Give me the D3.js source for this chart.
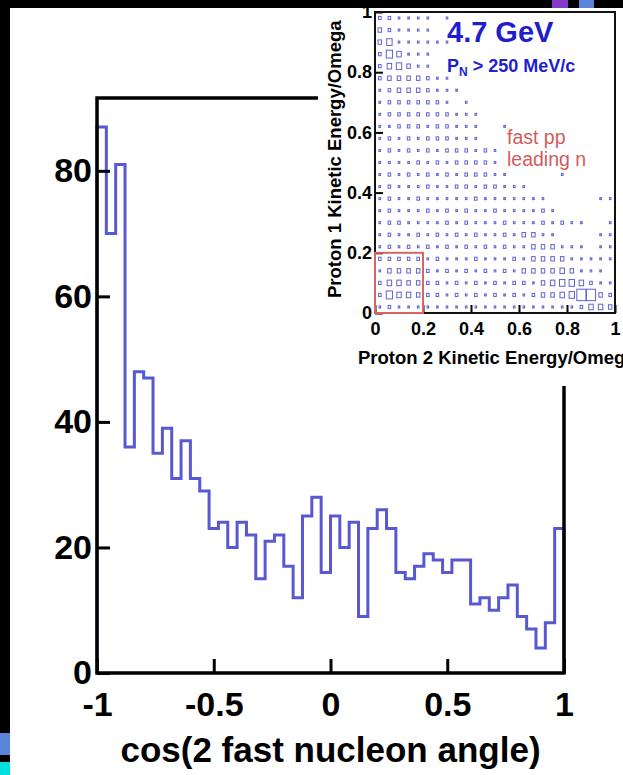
<!DOCTYPE html>
<html>
<head>
<meta charset="utf-8">
<script src="https://cdn.jsdelivr.net/npm/d3@7"></script>
<style>
html, body { margin: 0; padding: 0; background: #fff; }
svg { display: block; }
text { font-family: "Liberation Sans", Arial, Helvetica, sans-serif; font-weight: bold; }
</style>
</head>
<body>
<svg id="chart" width="623" height="775"></svg>
<script>
// Main histogram: cos of the angle between the two fast nucleons, 50 bins on [-1, 1]
var cosRange = [-1, 1];
var counts = [87, 70, 81, 36, 48, 47, 35, 39, 31, 37,
              31, 29, 23, 24, 20, 24, 22, 15, 21, 22,
              17, 12, 25, 28, 16, 25, 20, 24, 9, 23,
              26, 23, 16, 15, 17, 19, 18, 16, 18, 18,
              11, 12, 10, 12, 14, 9, 7, 4, 8, 23];
var countTicks = [0, 20, 40, 60, 80];
var cosTicks = [-1, -0.5, 0, 0.5, 1];

// Inset: proton 1 vs proton 2 kinetic energy / omega, 25 x 25 box plot.
// One string per row (top row first), one digit per cell = box size.
var insetRows = [
	"221111010",
	"321111",
	"35111111",
	"264111",
	"245311",
	"23333211",
	"123332111",
	"1222222101",
	"12222222111",
	"11222122111001",
	"12121222111",
	"1212121222121",
	"1111212122221",
	"12121212122211000001",
	"1211121122122111",
	"1211211111211111110000011",
	"1211121212112111121",
	"1221111212111211121211001",
	"1211212121211213311000011",
	"1212121212121211333111011",
	"2222212111211121333311111",
	"1333321212121213333431110",
	"2443322121212122134554211",
	"2644322121212121233459932",
	"1211111111111111111112443"
];
var insetTicks = [0, 0.2, 0.4, 0.6, 0.8, 1];
var fastRegion = [0, 0.2];

var svg = d3.select("#chart");

// ---------- main histogram ----------
var x = d3.scaleLinear().domain(cosRange).range([97, 564]);
var y = d3.scaleLinear().domain([0, 91.6]).range([673, 98]);
var binW = (cosRange[1] - cosRange[0]) / counts.length;

// step outline of the histogram
var pts = [[x(cosRange[0]), y(0)]];
counts.forEach(function(c, i) {
	var lo = cosRange[0] + i * binW;
	pts.push([x(lo), y(c)]);
	pts.push([x(lo + binW), y(c)]);
});
pts.push([x(cosRange[1]), y(0)]);

svg.append("path")
	.attr("d", d3.line()(pts))
	.attr("fill", "none")
	.attr("stroke", "#5858d2")
	.attr("stroke-width", 3)
	.attr("stroke-linejoin", "miter");

// axes, ticks pointing inside the frame
svg.append("g")
	.attr("transform", "translate(" + x(cosRange[0]) + ",0)")
	.call(d3.axisLeft(y).tickValues(countTicks).tickSizeInner(-13).tickSizeOuter(0).tickPadding(5))
	.call(function(g) {
		g.select(".domain").remove();
		g.selectAll("line").attr("stroke", "#000").attr("stroke-width", 3);
		g.selectAll("text").attr("fill", "#000").style("font-size", "34px");
	});

svg.append("g")
	.attr("transform", "translate(0," + y(0) + ")")
	.call(d3.axisBottom(x).tickValues(cosTicks).tickSizeInner(-14).tickSizeOuter(0)
		.tickFormat(function(d) { return String(d); }))
	.call(function(g) {
		g.select(".domain").remove();
		g.selectAll("line").attr("stroke", "#000").attr("stroke-width", 3);
		g.selectAll("text").attr("fill", "#000").attr("dy", null).attr("y", 43)
			.style("font-size", "34px");
	});

// frame
svg.append("rect")
	.attr("x", x(cosRange[0])).attr("y", y.range()[1])
	.attr("width", x(cosRange[1]) - x(cosRange[0]))
	.attr("height", y(0) - y.range()[1])
	.attr("fill", "none").attr("stroke", "#000").attr("stroke-width", 3.5);

svg.append("text")
	.attr("x", (x(cosRange[0]) + x(cosRange[1])) / 2)
	.attr("y", 762)
	.attr("text-anchor", "middle")
	.style("font-size", "35px")
	.text("cos(2 fast nucleon angle)");

// ---------- inset ----------
svg.append("rect")
	.attr("x", 318).attr("y", 0).attr("width", 305).attr("height", 386)
	.attr("fill", "#fff");

var ix = d3.scaleLinear().domain([0, 1]).range([375, 615]);
var iy = d3.scaleLinear().domain([0, 1]).range([313, 12]);
var nCells = 25;
var cell = 1 / nCells;
// box side as a fraction of the cell
var boxScale = d3.scaleLinear().domain([1, 9]).range([0.17, 0.95]);

var cells = [];
insetRows.forEach(function(row, r) {
	var s = row.padEnd(nCells, "0");
	for (var i = 0; i < nCells; i++) {
		var v = +s[i];
		if (v > 0) cells.push({ col: i, row: nCells - 1 - r, v: v });
	}
});

var cw = ix(cell) - ix(0), ch = iy(0) - iy(cell);
svg.append("g").selectAll("rect")
	.data(cells)
	.enter().append("rect")
	.attr("x", function(d) { return ix((d.col + 0.5) * cell) - cw * boxScale(d.v) / 2; })
	.attr("y", function(d) { return iy((d.row + 0.5) * cell) - ch * boxScale(d.v) / 2; })
	.attr("width", function(d) { return cw * boxScale(d.v); })
	.attr("height", function(d) { return ch * boxScale(d.v); })
	.attr("fill", "none")
	.attr("stroke", "#6262d0")
	.attr("stroke-width", 1);

svg.append("g")
	.attr("transform", "translate(" + ix(0) + ",0)")
	.call(d3.axisLeft(iy).tickValues(insetTicks).tickSizeInner(-8).tickSizeOuter(0).tickPadding(3)
		.tickFormat(function(d) { return String(d); }))
	.call(function(g) {
		g.select(".domain").remove();
		g.selectAll("line").attr("stroke", "#000").attr("stroke-width", 2);
		g.selectAll("text").attr("fill", "#000").style("font-size", "18px");
	});

svg.append("g")
	.attr("transform", "translate(0," + iy(0) + ")")
	.call(d3.axisBottom(ix).tickValues(insetTicks).tickSizeInner(-8).tickSizeOuter(0)
		.tickFormat(function(d) { return String(d); }))
	.call(function(g) {
		g.select(".domain").remove();
		g.selectAll("line").attr("stroke", "#000").attr("stroke-width", 2);
		g.selectAll("text").attr("fill", "#000").attr("dy", null).attr("y", 22)
			.style("font-size", "18px");
	});

svg.append("rect")
	.attr("x", ix(0)).attr("y", iy(1))
	.attr("width", ix(1) - ix(0)).attr("height", iy(0) - iy(1))
	.attr("fill", "none").attr("stroke", "#111").attr("stroke-width", 2);

// red "fast pp" region
svg.append("rect")
	.attr("x", ix(fastRegion[0])).attr("y", iy(fastRegion[1]))
	.attr("width", ix(fastRegion[1]) - ix(fastRegion[0]))
	.attr("height", iy(fastRegion[0]) - iy(fastRegion[1]))
	.attr("fill", "none").attr("stroke", "#d86464").attr("stroke-width", 2);

// inset axis titles
svg.append("text")
	.attr("x", 358).attr("y", 364)
	.style("font-size", "18.5px")
	.text("Proton 2 Kinetic Energy/Omega");

svg.append("text")
	.attr("transform", "translate(341,298) rotate(-90)")
	.style("font-size", "18.5px")
	.text("Proton 1 Kinetic Energy/Omega");

// labels inside the inset
svg.append("text")
	.attr("x", 447).attr("y", 42)
	.attr("fill", "#1e1ecf")
	.style("font-size", "29px")
	.text("4.7 GeV");

var pn = svg.append("text")
	.attr("x", 447).attr("y", 72)
	.attr("fill", "#1e1ecf")
	.style("font-size", "18px");
pn.append("tspan").text("P");
pn.append("tspan").attr("dy", 4).style("font-size", "12px").text("N");
pn.append("tspan").attr("dy", -4).text(" > 250 MeV/c");

svg.append("text")
	.attr("x", 507).attr("y", 144)
	.attr("fill", "#d25c5c")
	.style("font-size", "19.5px").style("font-weight", "normal")
	.text("fast pp");
svg.append("text")
	.attr("x", 507).attr("y", 166)
	.attr("fill", "#d25c5c")
	.style("font-size", "19.5px").style("font-weight", "normal")
	.text("leading n");

// ---------- slide decorations (black borders and small squares) ----------
svg.append("rect").attr("x", 0).attr("y", 0).attr("width", 623).attr("height", 8).attr("fill", "#000");
svg.append("rect").attr("x", 0).attr("y", 0).attr("width", 10).attr("height", 775).attr("fill", "#000");
svg.append("rect").attr("x", 552).attr("y", 0).attr("width", 16).attr("height", 8).attr("fill", "#8338c8");
svg.append("rect").attr("x", 579).attr("y", 0).attr("width", 15).attr("height", 8).attr("fill", "#5a84d8");
svg.append("rect").attr("x", 0).attr("y", 733).attr("width", 10).attr("height", 22).attr("fill", "#5a84d8");
svg.append("rect").attr("x", 0).attr("y", 762).attr("width", 10).attr("height", 13).attr("fill", "#00e0e0");
</script>
</body>
</html>
